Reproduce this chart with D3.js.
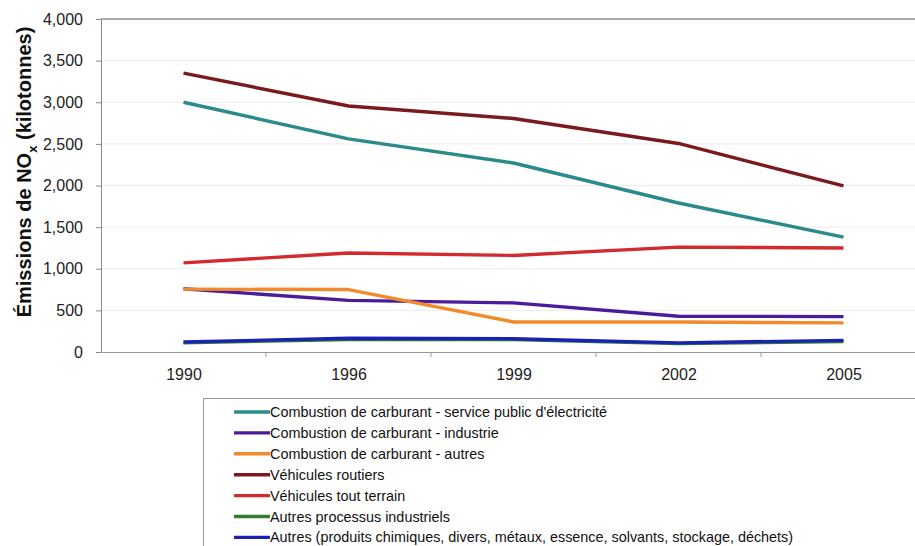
<!DOCTYPE html>
<html>
<head>
<meta charset="utf-8">
<script src="https://cdn.jsdelivr.net/npm/d3@7/dist/d3.min.js"></script>
<style>
  html, body { margin: 0; padding: 0; background: #fff; }
  svg { display: block; font-family: "Liberation Sans", Arial, sans-serif; }
</style>
</head>
<body>
<svg id="chart" width="915" height="546"></svg>
<script>
// Years on the horizontal axis
const years = ["1990", "1996", "1999", "2002", "2005"];

// NOx emissions per source (kilotonnes)
const electricite   = [3000, 2560, 2270, 1790, 1380];
const industrie     = [760, 620, 590, 430, 425];
const autresComb    = [755, 750, 360, 360, 350];
const routiers      = [3350, 2955, 2805, 2505, 1995];
const toutTerrain   = [1070, 1190, 1160, 1260, 1250];
const processus     = [110, 150, 150, 100, 125];
const autres        = [120, 165, 160, 110, 140];

const seriesNames = [
  "Combustion de carburant - service public d'électricité",
  "Combustion de carburant - industrie",
  "Combustion de carburant - autres",
  "Véhicules routiers",
  "Véhicules tout terrain",
  "Autres processus industriels",
  "Autres (produits chimiques, divers, métaux, essence, solvants, stockage, déchets)"
];
const seriesValues = [electricite, industrie, autresComb, routiers, toutTerrain, processus, autres];
const seriesColors = ["#2b8a8a", "#4a1c9c", "#f28a2c", "#7a1a1e", "#d22a2e", "#2e7d32", "#1a22b4"];

const yTicks = [0, 500, 1000, 1500, 2000, 2500, 3000, 3500, 4000];

const svg = d3.select("#chart");
const plot = { left: 101, right: 926, top: 19, bottom: 352 };

const x = d3.scalePoint().domain(years).range([plot.left, plot.right]).padding(0.5);
const xBand = d3.scaleBand().domain(years).range([plot.left, plot.right]);
const y = d3.scaleLinear().domain([0, 4000]).range([plot.bottom, plot.top]);

// Horizontal gridlines
svg.append("g")
  .selectAll("line")
  .data(yTicks.filter(d => d > 0 && d < 4000))
  .join("line")
  .attr("x1", plot.left).attr("x2", plot.right)
  .attr("y1", d => y(d)).attr("y2", d => y(d))
  .attr("stroke", "#ececec").attr("stroke-width", 1);

// Top frame line
svg.append("line")
  .attr("x1", plot.left).attr("x2", plot.right)
  .attr("y1", plot.top).attr("y2", plot.top)
  .attr("stroke", "#a8a8a8").attr("stroke-width", 2);

// Y axis
const yAxis = svg.append("g")
  .attr("transform", `translate(${plot.left},0)`)
  .call(d3.axisLeft(y).tickValues(yTicks).tickSize(5).tickPadding(13).tickFormat(d3.format(",")));
yAxis.select(".domain").attr("stroke", "#888");
yAxis.selectAll(".tick line").attr("stroke", "#888");
yAxis.selectAll("text").attr("font-size", 16).attr("fill", "#222")
  .attr("font-family", "'Liberation Sans', Arial, sans-serif");

// X axis: ticks sit between categories
const xAxis = svg.append("g")
  .attr("transform", `translate(0,${plot.bottom})`)
  .call(d3.axisBottom(x).tickSize(0).tickPadding(17));
xAxis.select(".domain").attr("stroke", "#999");
xAxis.selectAll("text").attr("font-size", 16).attr("fill", "#222")
  .attr("font-family", "'Liberation Sans', Arial, sans-serif");
xAxis.selectAll(".sep")
  .data(years.slice(1))
  .join("line")
  .attr("class", "sep")
  .attr("x1", d => xBand(d)).attr("x2", d => xBand(d))
  .attr("y1", 0).attr("y2", 5)
  .attr("stroke", "#999");

// Y axis title with subscript
const title = svg.append("text")
  .attr("transform", "translate(31,172) rotate(-90)")
  .attr("text-anchor", "middle")
  .attr("font-size", 20).attr("font-weight", "bold").attr("fill", "#111");
title.append("tspan").text("Émissions de NO");
title.append("tspan").text("x").attr("font-size", 13).attr("dy", 6);
title.append("tspan").text(" (kilotonnes)").attr("dy", -6);

// Series lines
const line = d3.line().x((d, i) => x(years[i])).y(d => y(d));
svg.append("g")
  .selectAll("path")
  .data(seriesValues)
  .join("path")
  .attr("d", d => line(d))
  .attr("fill", "none")
  .attr("stroke", (d, i) => seriesColors[i])
  .attr("stroke-width", 3.4)
  .attr("stroke-linejoin", "round");

// Legend
const legend = svg.append("g");
legend.append("rect")
  .attr("x", 203.5).attr("y", 398.5)
  .attr("width", 760).attr("height", 200)
  .attr("fill", "#fff").attr("stroke", "#999");
const items = legend.selectAll("g.item")
  .data(seriesNames)
  .join("g")
  .attr("class", "item")
  .attr("transform", (d, i) => `translate(0,${412 + i * 20.9})`);
items.append("line")
  .attr("x1", 234).attr("x2", 270)
  .attr("y1", 0).attr("y2", 0)
  .attr("stroke", (d, i) => seriesColors[i])
  .attr("stroke-width", 3.4);
items.append("text")
  .attr("x", 270).attr("y", 5)
  .attr("font-size", 14.4).attr("fill", "#111")
  .text(d => d);
</script>
</body>
</html>
